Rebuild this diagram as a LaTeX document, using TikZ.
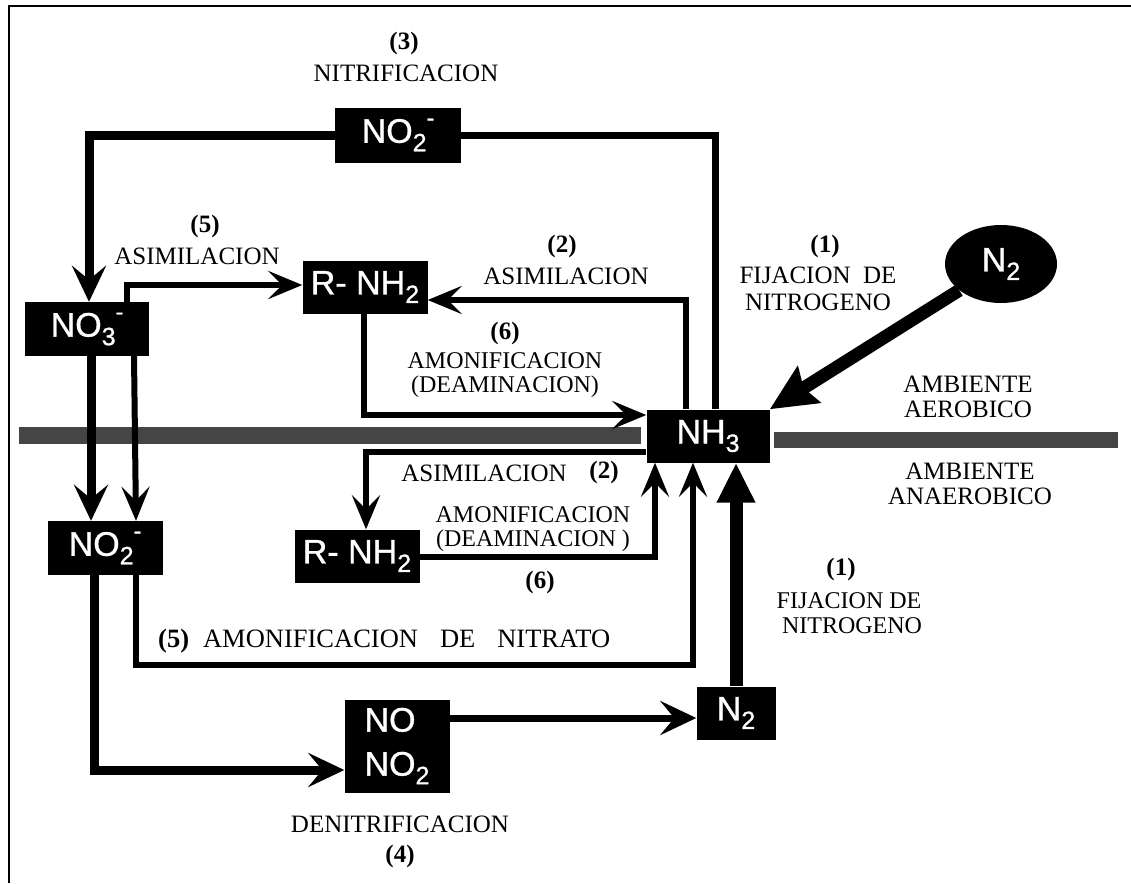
\documentclass[tikz,border=0pt]{standalone}
\usepackage{fontspec}
\setmainfont{Liberation Serif}
\newfontfamily\boxfont[FakeBold=1]{Liberation Sans}
\usetikzlibrary{arrows.meta,shapes.geometric}
\newcommand\lo[1]{\raisebox{-0.25em}{\fontsize{25}{25}\selectfont #1}}
\newcommand\hi[1]{\raisebox{0.5em}{\fontsize{23}{23}\selectfont #1}}
\tikzset{
  bx/.style={fill=black, text=white, inner sep=0pt, font=\boxfont\fontsize{34}{36}\selectfont},
  lab/.style={inner sep=0pt, align=center, font=\fontsize{25}{25}\selectfont},
  tight/.style={font=\fontsize{24}{24.5}\selectfont},
  num/.style={inner sep=0pt, font=\bfseries\fontsize{25}{25}\selectfont},
  amb/.style={inner sep=0pt, align=center, font=\fontsize{25}{25}\selectfont},
  wA/.style={line width=9pt},
  wB/.style={line width=6pt},
  wC/.style={line width=7pt},
  wD/.style={line width=13pt},
  arr/.style={-{Stealth[length=34pt,width=28pt,inset=14pt]}},
  arrA/.style={-{Stealth[length=36pt,width=34pt,inset=14pt]}},
  bigarr/.style={-{Stealth[length=46pt,width=42pt,inset=6pt]}},
  triarr/.style={-{Triangle[length=40pt,width=36pt]}},
  band/.style={fill=black!73, draw=none},
}
\begin{document}
\begin{tikzpicture}[x=1pt,y=-1pt]
\useasboundingbox (0,0) rectangle (1131,883);
\fill[white] (0,0) rectangle (1131,883);
% frame
\draw[line width=2.5pt] (9,883) -- (9,6) -- (1131,6);
% gray band
\fill[band] (19,427) rectangle (641,444);
\fill[band] (774,432) rectangle (1118,448);

% boxes
\node[bx, minimum width=126pt, minimum height=55pt] (no2t) at (398,135) {NO\lo{2}\hi{-}};
\node[bx, minimum width=124pt, minimum height=54pt] (no3) at (87,329) {NO\lo{3}\hi{-}};
\node[bx, minimum width=125pt, minimum height=53pt] (rnh2t) at (365,287) {R- NH\lo{2}};
\node[bx, minimum width=123pt, minimum height=53pt] (nh3) at (708,436) {NH\lo{3}};
\node[bx, ellipse, minimum width=112pt, minimum height=78pt] (n2e) at (1001,264) {N\lo{2}};
\node[bx, minimum width=115pt, minimum height=54pt] (no2b) at (105,548) {NO\lo{2}\hi{-}};
\node[bx, minimum width=125pt, minimum height=53pt] (rnh2b) at (357,556) {R- NH\lo{2}};
\node[bx, minimum width=105pt, minimum height=93pt, align=left, font=\boxfont\fontsize{34}{44}\selectfont] (nob) at (397,746) {NO\\NO\lo{2}};
\node[bx, minimum width=79pt, minimum height=53pt] (n2b) at (736,713) {N\lo{2}};

% connectors
\draw[wC] (715,0 |- nh3.north) |- (no2t.east);
\draw[wA,arrA] (no2t.west) -| (89,0 |- no3.north);
\draw[wB,arr] (127,0 |- no3.north) |- (rnh2t.west |- 0,285);
\draw[wB,arr] (364,0 |- rnh2t.south) |- (nh3.west |- 0,415);
\draw[wB,arr] (686,0 |- nh3.north) |- (rnh2t.east |- 0,300);
\draw[wD,bigarr] (n2e) -- (nh3.north east);
\draw[wA,arrA] (91,0 |- no3.south) -- (91,0 |- no2b.north);
\draw[wB,arr] (134,0 |- no3.south) -- (136,0 |- no2b.north);
\draw[wB,arr] (nh3.west |- 0,452) -| (366,0 |- rnh2b.north);
\draw[wB,arr] (rnh2b.east |- 0,557) -| (655,0 |- nh3.south);
\coordinate (c5) at (693,665);
\draw[wB,arr] (136,0 |- no2b.south) |- (c5) -- (693,0 |- nh3.south);
\draw[wA,arrA] (94,0 |- no2b.south) |- (nob.west |- 0,770);
\draw[wC,arrA] (nob.east |- 0,718) -- (n2b.west |- 0,718);
\draw[wD,triarr] (n2b.north) -- (n2b.north |- nh3.south);

% labels
\node[num] (l3n) at (404,43) {(3)};
\node[lab] (l3t) at (406,73) {NITRIFICACION};
\node[num] (l5n) at (205,226) {(5)};
\node[lab] (l5t) at (197,256) {ASIMILACION};
\node[num] (l2n) at (562,246) {(2)};
\node[lab] (l2t) at (566,276) {ASIMILACION};
\node[num] (l6n) at (505,333) {(6)};
\node[lab, tight] (l6t) at (505,375) {AMONIFICACION\\(DEAMINACION)};
\node[num] (l1n) at (825,246) {(1)};
\node[lab, font=\fontsize{25}{27}\selectfont] (l1t) at (818,289) {FIJACION~ DE\\NITROGENO};
\node[amb] (aer) at (968,397) {AMBIENTE\\AEROBICO};
\node[amb] (ana) at (970,484) {AMBIENTE\\ANAEROBICO};
\node[lab] (l2bt) at (484,473) {ASIMILACION};
\node[num] (l2bn) at (604,472) {(2)};
\node[lab, tight] (l6bt) at (533,529) {AMONIFICACION\\(DEAMINACION )};
\node[num] (l6bn) at (540,582) {(6)};
\node[num] (l1bn) at (841,569) {(1)};
\node[lab, tight] (l1bt) at (849,613) {FIJACION DE\\\ NITROGENO};
\node[lab, anchor=west, font=\fontsize{26.5}{26.5}\selectfont] (l5b) at (158,641) {\textbf{(5)}\hspace{14pt}AMONIFICACION\hspace{22pt}DE\hspace{22pt}NITRATO};
\node[lab] (l4t) at (400,824) {DENITRIFICACION};
\node[num] (l4n) at (400,856) {(4)};
\end{tikzpicture}
\end{document}
